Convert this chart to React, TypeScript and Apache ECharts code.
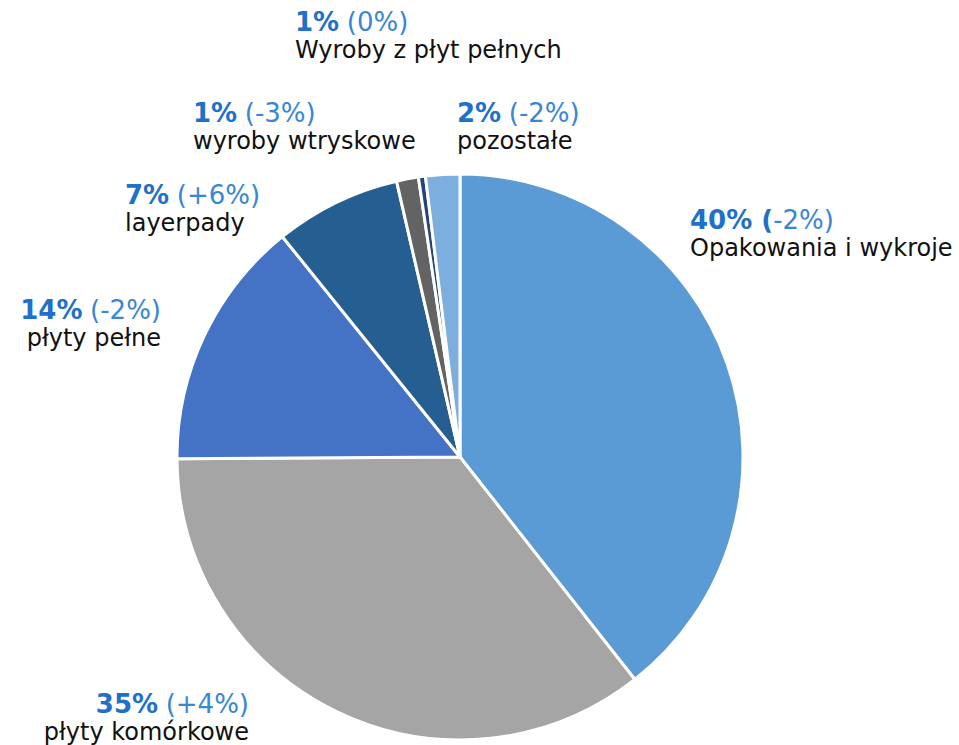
import React, { useEffect, useRef } from "react";
import * as echarts from "echarts";

// Data (clockwise from 12 o'clock)
const names = [
  "Opakowania i wykroje",
  "płyty komórkowe",
  "płyty pełne",
  "layerpady",
  "wyroby wtryskowe",
  "Wyroby z płyt pełnych",
  "pozostałe",
];
const values = [39.4, 35.5, 14.3, 7.2, 1.25, 0.4, 1.95];
const shareLabels = ["40%", "35%", "14%", "7%", "1%", "1%", "2%"];
const changeLabels = ["-2%", "+4%", "-2%", "+6%", "-3%", "0%", "-2%"];
const colors = ["#5B9BD5", "#A5A5A5", "#4472C4", "#255E91", "#636363", "#264478", "#7CAFDD"];

// Label placement (layout only)
const labelAnchors: { x: number; y: number; align: "left" | "right" }[] = [
  { x: 690, y: 234, align: "left" },
  { x: 249, y: 718, align: "right" },
  { x: 161, y: 324, align: "right" },
  { x: 125, y: 209, align: "left" },
  { x: 193, y: 127, align: "left" },
  { x: 295, y: 36, align: "left" },
  { x: 457, y: 127, align: "left" },
];

const FONT = "'DejaVu Sans', Verdana, sans-serif";

export default function App() {
  const ref = useRef<HTMLDivElement>(null);
  useEffect(() => {
    if (!ref.current) return;
    const chart = echarts.init(ref.current, undefined, { renderer: "svg" });
    const mkRich = (align: string) => ({
      b: { fontFamily: FONT, fontSize: 26, fontWeight: "bold", color: "#1E70C8", lineHeight: 28, align },
      n: { fontFamily: FONT, fontSize: 26, color: "#3A86D4", lineHeight: 28, align },
      t: { fontFamily: FONT, fontSize: 24, color: "#111111", lineHeight: 28, align },
    });
    const data = names.map((name, i) => ({
      name,
      value: values[i],
      itemStyle: { color: colors[i] },
      label: {
        align: labelAnchors[i].align,
        rich: mkRich(labelAnchors[i].align),
        formatter:
          i === 0
            ? `{b|${shareLabels[i]} (}{n|${changeLabels[i]})}\n{t|${name}}`
            : `{b|${shareLabels[i]}} {n|(${changeLabels[i]})}\n{t|${name}}`,
      },
    }));
    chart.setOption({
      animation: false,
      series: [
        {
          type: "pie",
          center: [460, 457],
          radius: [0, 283],
          startAngle: 90,
          clockwise: true,
          avoidLabelOverlap: false,
          itemStyle: { borderColor: "#ffffff", borderWidth: 3 },
          label: { show: true, position: "outside", fontFamily: FONT, fontSize: 24 },
          labelLine: { show: false },
          emphasis: { disabled: true },
          labelLayout: (params: any) => {
            const a = labelAnchors[params.dataIndex];
            return { x: a.x, y: a.y, align: a.align, verticalAlign: "middle" };
          },
          data,
        },
      ],
    });
    return () => chart.dispose();
  }, []);
  return (
    <div
      ref={ref}
      style={{ position: "fixed", left: 0, top: 0, width: 959, height: 745, background: "#fff" }}
    />
  );
}
